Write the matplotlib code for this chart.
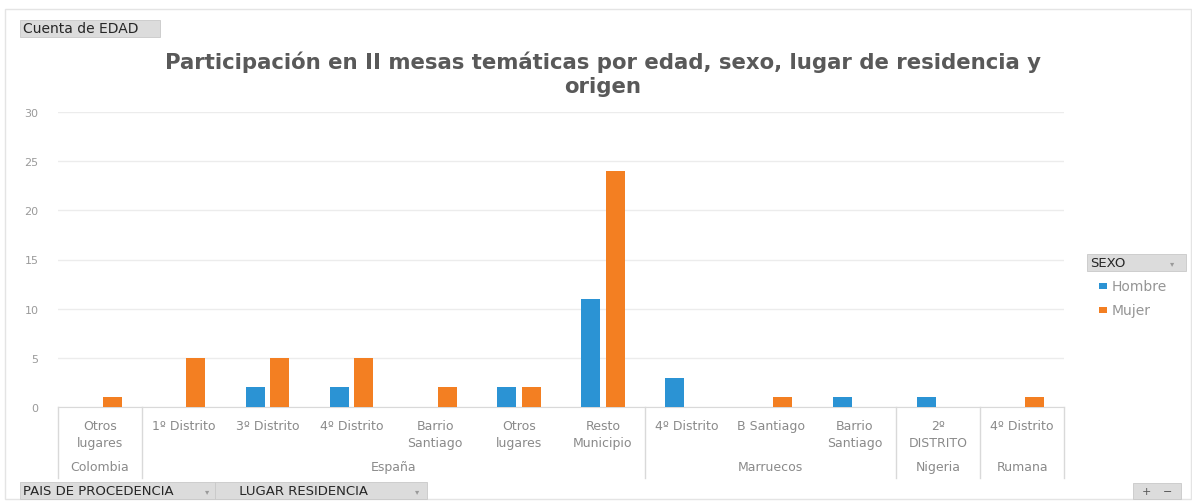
import matplotlib
matplotlib.use('Agg')
import matplotlib.pyplot as plt
from matplotlib.patches import Rectangle
import numpy as np

# Pivot chart data
lugares = ['Otros\nlugares', '1º Distrito', '3º Distrito', '4º Distrito', 'Barrio\nSantiago',
           'Otros\nlugares', 'Resto\nMunicipio', '4º Distrito', 'B Santiago', 'Barrio\nSantiago',
           '2º\nDISTRITO', '4º Distrito']
paises = ['Colombia', 'España', 'Marruecos', 'Nigeria', 'Rumana']
paises_n = [1, 6, 3, 1, 1]  # number of lugares under each pais
hombre = [0, 0, 2, 2, 0, 2, 11, 3, 0, 1, 1, 0]
mujer = [1, 5, 5, 5, 2, 2, 24, 0, 1, 0, 0, 1]
yticks = [0, 5, 10, 15, 20, 25, 30]
title_lines = ['Participación en II mesas temáticas por edad, sexo, lugar de residencia y', 'origen']

blue = '#2B93D4'
orange = '#F37F22'
grey_txt = '#8a8a8a'
line_c = '#d9d9d9'
W, H = 1192, 502

plt.rcParams['font.family'] = ['DejaVu Sans']

fig = plt.figure(figsize=(11.92, 5.02), dpi=100)


def fx(px):
    return px / W


def fy(py):
    return 1 - py / H


# outer frame of the pivot chart
fig.patches.append(Rectangle((fx(5), fy(500)), fx(1186), fy(10) - fy(500), transform=fig.transFigure,
                             fill=False, edgecolor='#e4e4e4', lw=1.0))

ax = fig.add_axes([fx(58), fy(408), fx(1064) - fx(58), fy(113) - fy(408)])
x = np.arange(len(lugares))
bw = 0.225
ax.bar(x - 0.145, hombre, bw, color=blue, label='Hombre', zorder=3)
ax.bar(x + 0.145, mujer, bw, color=orange, label='Mujer', zorder=3)
ax.set_xlim(-0.5, len(lugares) - 0.5)
ax.set_ylim(0, 30)
ax.set_yticks(yticks)
ax.set_yticklabels([str(v) for v in yticks], color='#9a9a9a', fontsize=8)
ax.tick_params(axis='y', length=0, pad=14)
ax.set_xticks([])
ax.grid(axis='y', color='#ececec', lw=1.0, zorder=0)
for s in ['top', 'right', 'left']:
    ax.spines[s].set_visible(False)
ax.spines['bottom'].set_color(line_c)

# category labels, two levels
trans = ax.get_xaxis_transform()
for i, lab in enumerate(lugares):
    ax.text(i, -0.041, lab, transform=trans, ha='center', va='top', fontsize=9,
            color=grey_txt, linespacing=1.35, clip_on=False)
start = 0
bounds = [0]
for p, n in zip(paises, paises_n):
    ax.text(start + n / 2 - 0.5, -0.181, p, transform=trans, ha='center', va='top', fontsize=9,
            color=grey_txt, clip_on=False)
    start += n
    bounds.append(start)
for b in bounds:
    ax.plot([b - 0.5, b - 0.5], [0, -0.24], transform=trans, color=line_c, lw=1.0, clip_on=False)

# title
fig.text(fx(603), fy(69), title_lines[0], ha='center', va='baseline', fontsize=15.3,
         fontweight='bold', color='#595959')
fig.text(fx(603), fy(93), title_lines[1], ha='center', va='baseline', fontsize=15.3,
         fontweight='bold', color='#595959')


def button(x0, y0, x1, y1, label, fs=9.5):
    fig.patches.append(Rectangle((fx(x0), fy(y1)), fx(x1 - x0), fy(y0) - fy(y1),
                                 transform=fig.transFigure, facecolor='#dcdcdc',
                                 edgecolor='#c8c8c8', lw=0.6))
    fig.text(fx(x0 + 3), fy((y0 + y1) / 2), label, ha='left', va='center', fontsize=fs,
             color='#262626')


button(20, 21, 160, 38, 'Cuenta de EDAD', fs=10)
button(20, 483, 215, 500, 'PAIS DE PROCEDENCIA')
button(215, 483, 427, 500, '     LUGAR RESIDENCIA')
fig.text(fx(207), fy(491.5), '▾', ha='center', va='center', fontsize=6, color='#9a9a9a')
fig.text(fx(417), fy(491.5), '▾', ha='center', va='center', fontsize=6, color='#9a9a9a')
button(1087, 255, 1186, 272, 'SEXO')
fig.text(fx(1172), fy(263.5), '▾', ha='center', va='center', fontsize=6, color='#9a9a9a')
button(1133, 484, 1181, 500, '')
fig.text(fx(1146), fy(492), '+', ha='center', va='center', fontsize=8, color='#555555')
fig.text(fx(1168), fy(492), '−', ha='center', va='center', fontsize=8, color='#555555')

# legend
for lab, c, yy in [('Hombre', blue, 287), ('Mujer', orange, 311)]:
    fig.patches.append(Rectangle((fx(1099), fy(yy + 3)), fx(8), fy(yy - 3) - fy(yy + 3),
                                 transform=fig.transFigure, facecolor=c, edgecolor='none'))
    fig.text(fx(1112), fy(yy), lab, ha='left', va='center', fontsize=10, color='#959595')

fig.savefig('out.png', dpi=100)
